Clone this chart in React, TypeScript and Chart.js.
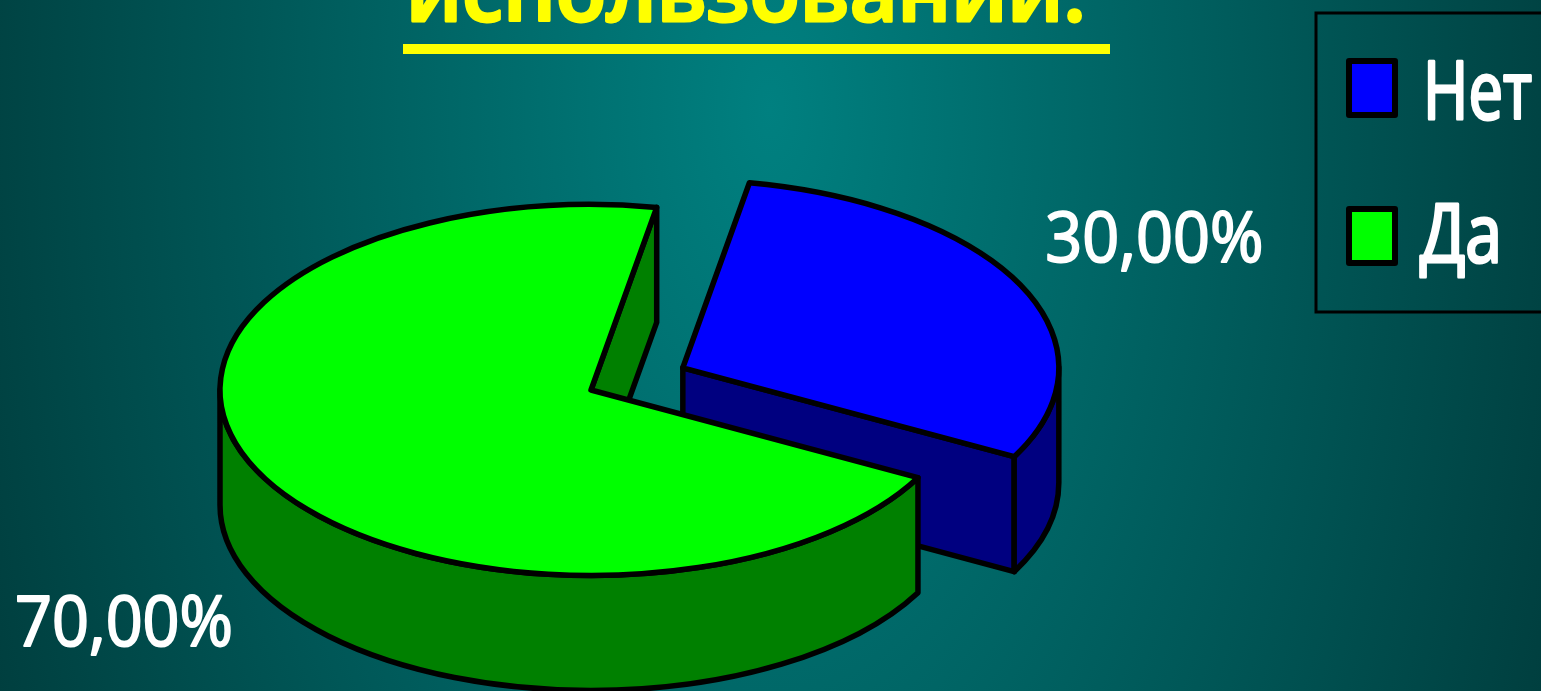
import React, { useEffect, useRef } from "react";
import { Chart, registerables } from "chart.js";

Chart.register(...registerables);

const categories = ["Нет", "Да"];
const shareValues = [30, 70];
const sliceColors = ["#0000ff", "#00ff00"];
const wallColors = ["#000080", "#008000"];
const titleText = "использовании:";

const W = 1541;
const H = 691;
const TILT = 0.5;
const DEPTH = 115;
const FONT = '"Open Sans", "Noto Sans", sans-serif';

function fitText(ctx: CanvasRenderingContext2D, text: string, x: number, base: number, font: string, width: number, color: string, weightStroke = 0) {
  ctx.save();
  ctx.font = font;
  ctx.fillStyle = color;
  ctx.strokeStyle = color;
  ctx.lineJoin = "round";
  ctx.textAlign = "left";
  ctx.textBaseline = "alphabetic";
  const m = ctx.measureText(text).width;
  ctx.translate(x, base);
  ctx.scale(width / m, 1);
  ctx.fillText(text, 0, 0);
  if (weightStroke > 0) {
    ctx.lineWidth = weightStroke;
    ctx.strokeText(text, 0, 0);
  }
  ctx.restore();
}

function geom(chart: any, arc: any) {
  const cy0 = arc.y;
  const half = (arc.startAngle + arc.endAngle) / 2;
  const off = (arc.options.offset || 0) / 4;
  const fix = 1 - Math.sin(Math.min(Math.PI, arc.endAngle - arc.startAngle));
  const R = arc.outerRadius + off * fix;
  const cx = arc.x + Math.cos(half) * off;
  const cy = cy0 + Math.sin(half) * off * TILT;
  const pt = (a: number, d = 0) => [cx + R * Math.cos(a), cy + R * Math.sin(a) * TILT + d];
  return { cx, cy, R, pt, half };
}

function ellipsePath(ctx: CanvasRenderingContext2D, g: any, from: number, to: number, d = 0, ccw = false) {
  ctx.ellipse(g.cx, g.cy + d, g.R, g.R * TILT, 0, from, to, ccw);
}

const pie3d = {
  id: "pie3d",
  beforeDraw(chart: any) {
    const ctx = chart.ctx;
    ctx.save();
    ctx.translate(770, 110);
    ctx.scale(1, 1.9);
    const g = ctx.createRadialGradient(0, 0, 0, 0, 0, 830);
    g.addColorStop(0, "#008080");
    g.addColorStop(1, "#003f3f");
    ctx.fillStyle = g;
    ctx.fillRect(-900, -200, 2000, 700);
    ctx.restore();
  },
  beforeDatasetsDraw(chart: any) {
    const ctx = chart.ctx;
    const arcs = chart.getDatasetMeta(0).data;
    ctx.save();
    ctx.lineWidth = 5.5;
    ctx.lineJoin = "round";
    ctx.strokeStyle = "#000";
    arcs.forEach((arc: any, i: number) => {
      const g = geom(chart, arc);
      ctx.fillStyle = wallColors[i];
      const face = (a: number) => {
        const p = g.pt(a);
        ctx.beginPath();
        ctx.moveTo(g.cx, g.cy);
        ctx.lineTo(p[0], p[1]);
        ctx.lineTo(p[0], p[1] + DEPTH);
        ctx.lineTo(g.cx, g.cy + DEPTH);
        ctx.closePath();
        ctx.fill();
        ctx.stroke();
      };
      if (Math.sin(arc.startAngle - Math.PI / 2) > 0) face(arc.startAngle);
      if (Math.sin(arc.endAngle + Math.PI / 2) > 0) face(arc.endAngle);
      const from = Math.max(arc.startAngle, 0);
      const to = Math.min(arc.endAngle, Math.PI);
      if (to > from) {
        ctx.beginPath();
        ellipsePath(ctx, g, from, to);
        ellipsePath(ctx, g, to, from, DEPTH, true);
        ctx.closePath();
        ctx.fill();
        ctx.stroke();
      }
    });
    ctx.restore();
  },
  beforeDatasetDraw(chart: any) {
    const ctx = chart.ctx;
    const arc = chart.getDatasetMeta(0).data[0];
    ctx.save();
    ctx.translate(0, arc.y);
    ctx.scale(1, TILT);
    ctx.translate(0, -arc.y);
  },
  afterDatasetDraw(chart: any) {
    chart.ctx.restore();
  },
  afterDatasetsDraw(chart: any) {
    const ctx = chart.ctx;
    const arcs = chart.getDatasetMeta(0).data;
    ctx.save();
    ctx.lineWidth = 5.5;
    ctx.lineJoin = "round";
    ctx.strokeStyle = "#000";
    arcs.forEach((arc: any, i: number) => {
      const g = geom(chart, arc);
      ctx.beginPath();
      ctx.moveTo(g.cx, g.cy);
      ellipsePath(ctx, g, arc.startAngle, arc.endAngle);
      ctx.closePath();
      ctx.stroke();

      const mid = g.pt(g.half);
      const sx = Math.cos(g.half) > 0 ? 1 : -1;
      const lx = mid[0] + sx * 133;
      const ly = Math.sin(g.half) > 0 ? mid[1] + DEPTH + 60 : mid[1] - 24;
      const label = shareValues[i].toFixed(2).replace(".", ",") + "%";
      fitText(ctx, label, lx - 109, ly, `400 70px ${FONT}`, 218, "#ffffff", 2);
    });
    ctx.restore();

    fitText(ctx, titleText, 406, 21, `600 84px ${FONT}`, 680, "#ffff00", 3);
    ctx.save();
    ctx.fillStyle = "#ffff00";
    ctx.fillRect(403, 44, 707, 10);

    ctx.strokeStyle = "#000";
    ctx.lineWidth = 3;
    ctx.strokeRect(1316, 13, 240, 299);
    ctx.lineWidth = 6;
    ctx.lineJoin = "round";
    categories.forEach((name, i) => {
      const y = 61 + i * 148;
      ctx.fillStyle = sliceColors[i];
      ctx.fillRect(1349, y, 46, 54);
      ctx.strokeRect(1349, y, 46, 54);
      fitText(ctx, name, 1423 - (i ? 3 : 0), i ? 262 : 119, `400 80px ${FONT}`, i ? 82 : 109, "#ffffff", 3);
    });
    ctx.restore();
  },
};

export default function App() {
  const ref = useRef<HTMLCanvasElement>(null);
  useEffect(() => {
    document.body.style.margin = "0";
    const chart = new Chart(ref.current as HTMLCanvasElement, {
      type: "pie",
      data: {
        labels: categories,
        datasets: [
          {
            data: shareValues,
            backgroundColor: sliceColors,
            borderWidth: 0,
            offset: [408, 0],
            clip: false,
          } as any,
        ],
      },
      options: {
        responsive: false,
        animation: false,
        devicePixelRatio: 1,
        rotation: 10.2,
        radius: 371,
        layout: { padding: { left: 0, right: 359, top: 89, bottom: 0 } },
        plugins: { legend: { display: false }, title: { display: false }, tooltip: { enabled: false } },
      } as any,
      plugins: [pie3d],
    });
    return () => chart.destroy();
  }, []);
  return <canvas ref={ref} width={W} height={H} style={{ display: "block", width: W, height: H }} />;
}
